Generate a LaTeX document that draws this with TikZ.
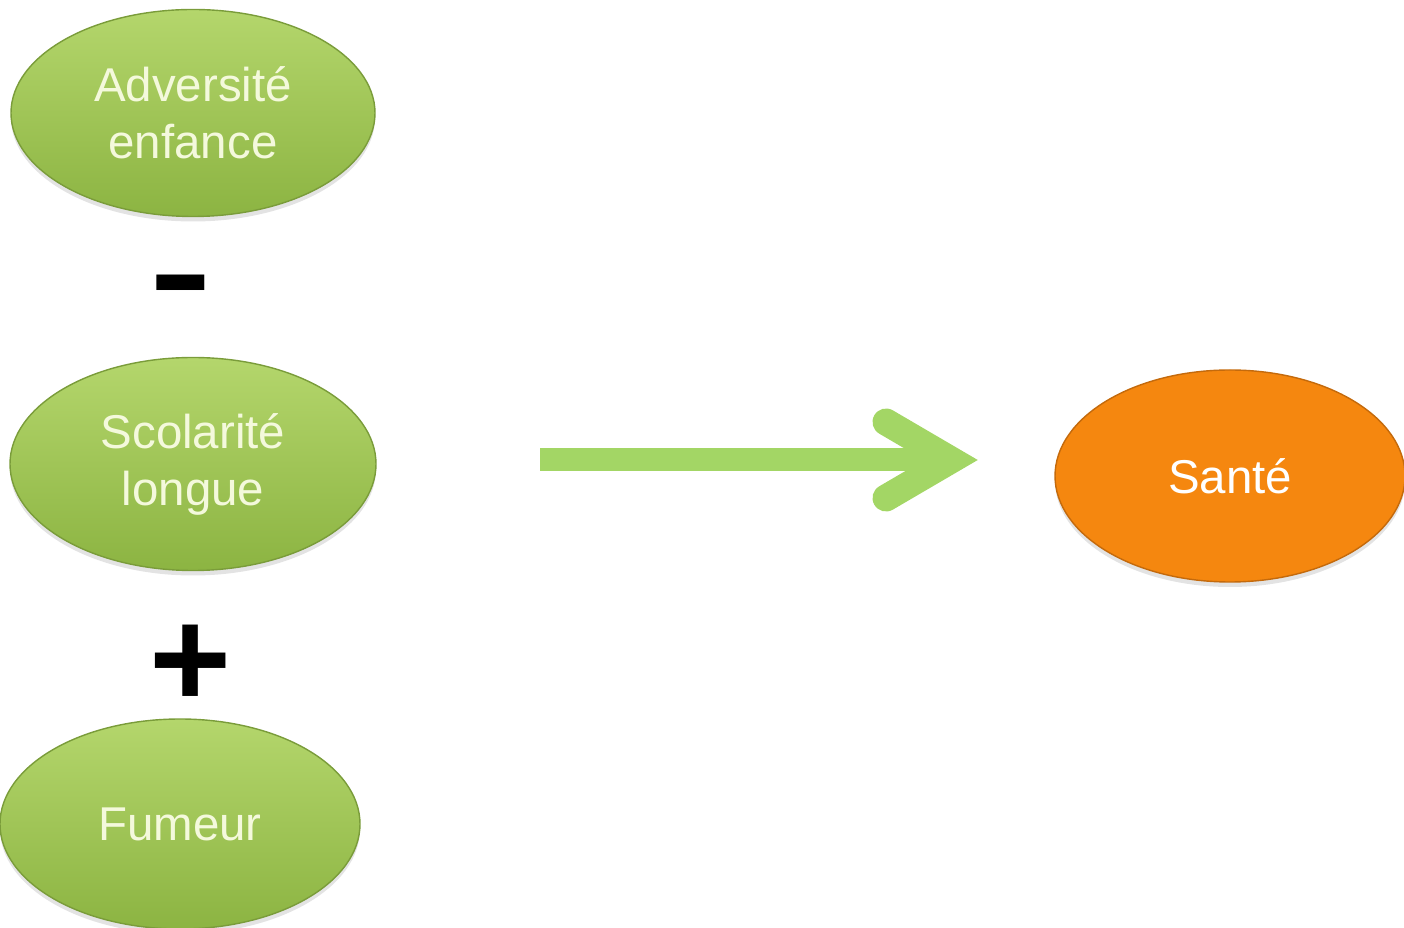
\documentclass[tikz,border=0pt]{standalone}
\usepackage{fontspec}
\setsansfont{Liberation Sans}
\usepackage{tikz}
\usetikzlibrary{shapes.geometric,shadows,calc,positioning}
\definecolor{vertclair}{HTML}{B4D66C}
\definecolor{vertfonce}{HTML}{8CB442}
\definecolor{vertbord}{HTML}{7A9C3A}
\definecolor{orange2}{HTML}{F5870F}
\definecolor{orangebord}{HTML}{C46A0C}
\definecolor{vertfleche}{HTML}{A3D665}
\definecolor{creme}{HTML}{F4F9DC}

\begin{document}
\begin{tikzpicture}
[font=\sffamily\fontsize{13.5}{16.2}\selectfont,
bulle/.style={ellipse,draw,line width=0.4pt,inner sep=0pt,align=center,
  drop shadow={opacity=0.22,shadow xshift=0pt,shadow yshift=-0.05cm}},
vert/.style={bulle,top color=vertclair,bottom color=vertfonce,draw=vertbord,text=creme},
orange/.style={bulle,fill=orange2,draw=orangebord,text=white},
signe/.style={inner sep=0pt,font=\sffamily\bfseries},
fleche/.style={vertfleche,line width=0.23cm},
pointe/.style={vertfleche,line width=0.27cm,line cap=round,line join=miter}]
\useasboundingbox (0,0) rectangle (14.04,-9.28);

\node (adversite) at (1.93,-1.13) [vert,minimum width=3.64cm,minimum height=2.07cm] {Adversité\\enfance};
\node (scolarite) at (1.93,-4.64) [vert,minimum width=3.66cm,minimum height=2.13cm] {Scolarité\\longue};
\node (fumeur) at (1.80,-8.24) [vert,minimum width=3.60cm,minimum height=2.10cm] {Fumeur};
\node (sante) at (12.30,-4.76) [orange,minimum width=3.50cm,minimum height=2.12cm] {Santé};

\node (moins) at (1.81,-2.96) [signe] {\fontsize{37}{37}\selectfont\scalebox{1.45}[1]{-}};
\node (plus) at (1.91,-6.66) [signe] {\fontsize{40}{40}\selectfont +};

\coordinate (debut) at (5.40,-4.60);
\coordinate (fin) at (9.78,-4.60);
\draw[fleche] (debut) -- ($(fin)+(-0.25,0)$);
\draw[pointe] ($(fin)+(-0.92,0.38)$) -- ($(fin)+(-0.27,0)$) -- ($(fin)+(-0.92,-0.38)$);

\end{tikzpicture}
\end{document}
